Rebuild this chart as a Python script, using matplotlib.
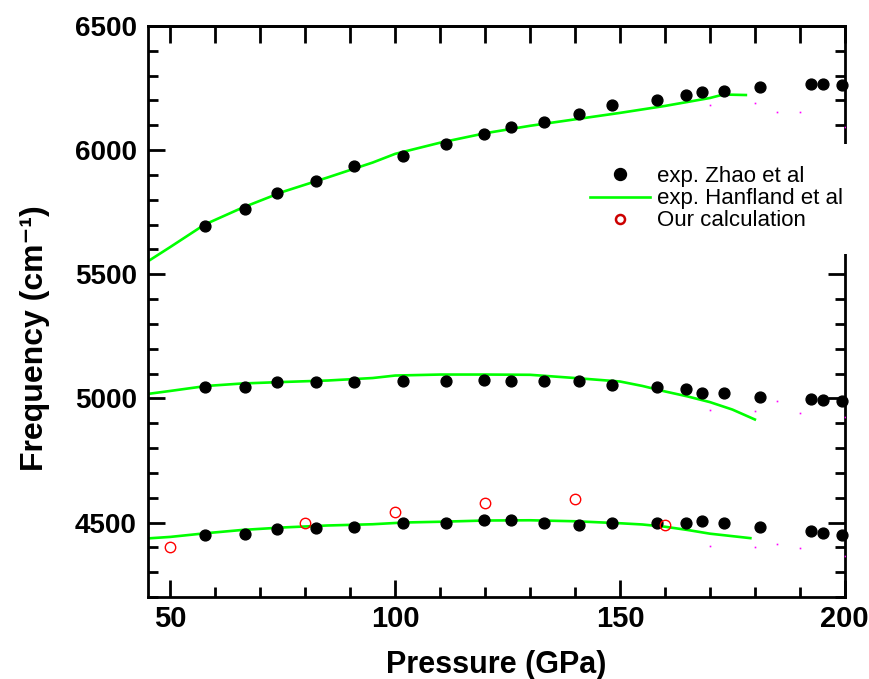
import matplotlib
matplotlib.use("Agg")
import matplotlib.pyplot as plt
from matplotlib.ticker import MultipleLocator

plt.rcParams["font.family"] = ["Liberation Sans", "DejaVu Sans"]

# exp. Zhao et al (same pressures for all three branches)
zhao_p = [57.6, 66.5, 73.8, 82.5, 90.8, 101.7, 111.2, 119.7, 125.7, 133.1,
          140.9, 148.2, 158.2, 164.7, 168.3, 173.2, 181.2, 192.5, 195.2, 199.4]
zhao_upper = [5695, 5764, 5828, 5876, 5937, 5977, 6025, 6065, 6093, 6114,
              6146, 6182, 6202, 6222, 6234, 6238, 6254, 6266, 6266, 6262]
zhao_middle = [5044, 5044, 5064, 5064, 5064, 5072, 5072, 5076, 5072, 5072,
               5072, 5052, 5044, 5036, 5020, 5020, 5004, 4996, 4992, 4988]
zhao_lower = [4451, 4455, 4472, 4476, 4480, 4496, 4496, 4512, 4512, 4500,
              4488, 4496, 4496, 4500, 4508, 4496, 4480, 4467, 4459, 4451]

# exp. Hanfland et al
hanf_p1 = [45, 50, 57.6, 66, 75, 85, 95, 100, 110, 120, 130, 140, 150, 160, 170, 173, 178]
hanf_f1 = [5552, 5610, 5700, 5768, 5832, 5890, 5950, 5985, 6030, 6068, 6098, 6124,
           6150, 6178, 6210, 6224, 6222]
hanf_p2 = [45, 50, 58, 66, 75, 85, 95, 100, 110, 120, 130, 140, 150, 155, 160, 165, 170, 175, 180]
hanf_f2 = [5018, 5030, 5050, 5060, 5066, 5072, 5082, 5092, 5096, 5096, 5095, 5082,
           5068, 5050, 5028, 5008, 4985, 4955, 4915]
hanf_p3 = [45, 50, 58, 66, 75, 85, 95, 102, 110, 120, 130, 140, 150, 155, 160, 165, 170, 175, 179]
hanf_f3 = [4436, 4442, 4457, 4470, 4480, 4488, 4493, 4500, 4503, 4508, 4509, 4505,
           4497, 4492, 4483, 4470, 4455, 4445, 4437]

# our calculation
calc_p = [50, 80, 100, 120, 140, 160]
calc_f = [4402, 4500, 4541, 4577, 4593, 4488]

# faint magenta specks
spec_p = [170, 180, 185, 190, 200]
spec_upper = [6182, 6190, 6154, 6154, 6093]
spec_middle = [4955, 4951, 4988, 4940, 4924]
spec_lower = [4407, 4402, 4415, 4398, 4366]

fig = plt.figure(figsize=(8.7, 6.79), dpi=100)
ax = fig.add_axes([0.170, 0.1208, 0.801, 0.8409])

green = "#00ff00"
hh, = ax.plot(hanf_p1, hanf_f1, color=green, lw=1.9)
ax.plot(hanf_p2, hanf_f2, color=green, lw=1.9)
ax.plot(hanf_p3, hanf_f3, color=green, lw=1.9)

for f in [zhao_upper, zhao_middle, zhao_lower]:
    ax.plot(zhao_p, f, "o", color="black", ms=7.8, clip_on=False, zorder=3)
for f in [spec_upper, spec_middle, spec_lower]:
    ax.plot(spec_p, f, "s", color="#ff00ff", ms=1.2, mew=0, zorder=3)

ax.plot(calc_p, calc_f, "o", mfc="none", mec="red", mew=1.0, ms=7.5, zorder=4)

# legend handles
hz, = ax.plot([], [], "o", color="black", ms=8.6)
hc, = ax.plot([], [], "o", mfc="none", mec="#cc0000", mew=1.8, ms=6.5)
leg = ax.legend([hz, hh, hc], ["exp. Zhao et al", "exp. Hanfland et al", "Our calculation"],
                loc="upper left", bbox_to_anchor=(0.6529, 0.7879),
                bbox_transform=fig.transFigure, frameon=True, fancybox=False,
                facecolor="white", edgecolor="none", framealpha=1,
                fontsize=16, handlelength=2.7, handletextpad=0.3,
                labelspacing=0.05, borderpad=1.0, borderaxespad=0)
leg.set_zorder(10)

ax.set_xlim(45, 200)
ax.set_ylim(4200, 6500)
ax.xaxis.set_major_locator(MultipleLocator(50))
ax.xaxis.set_minor_locator(MultipleLocator(10))
ax.yaxis.set_major_locator(MultipleLocator(500))
ax.yaxis.set_minor_locator(MultipleLocator(100))
ax.tick_params(which="both", direction="in", width=2, left=True, right=True,
               bottom=True, top=False)
ax.tick_params(which="major", length=12)
ax.tick_params(which="minor", length=7)
ax.tick_params(axis="x", which="major", labelsize=21, pad=6)
ax.tick_params(axis="y", which="major", labelsize=20, pad=8)
for lab in ax.get_xticklabels() + ax.get_yticklabels():
    lab.set_fontweight("bold")
for s in ax.spines.values():
    s.set_linewidth(2)

top = ax.secondary_xaxis("top")
top.set_xticks(list(range(50, 201, 10)))
top.tick_params(direction="in", length=12, width=2, labeltop=False)
top.spines["top"].set_linewidth(2)

ax.set_xlabel("Pressure (GPa)", fontsize=22, fontweight="bold", labelpad=12)
ax.set_ylabel("Frequency (cm\u207b\u00b9)", fontsize=23, fontweight="bold")
ax.yaxis.set_label_coords(-0.1406, 0.4536)

fig.savefig("out.png", dpi=100)
